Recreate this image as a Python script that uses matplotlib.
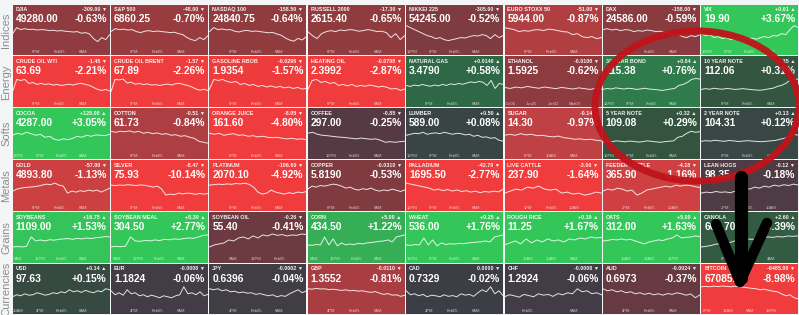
import numpy as np
import matplotlib.pyplot as plt
from matplotlib.colors import LinearSegmentedColormap, Normalize
from matplotlib.patches import Ellipse

plt.rcParams['font.family'] = ['Liberation Sans', 'DejaVu Sans']

groups = ['Indices', 'Energy', 'Softs', 'Metals', 'Grains', 'Currencies']

names = [
    ['DJIA', 'S&P 500', 'NASDAQ 100', 'RUSSELL 2000', 'NIKKEI 225', 'EURO STOXX 50', 'DAX', 'VIX'],
    ['CRUDE OIL WTI', 'CRUDE OIL BRENT', 'GASOLINE RBOB', 'HEATING OIL', 'NATURAL GAS', 'ETHANOL', '30 YEAR BOND', '10 YEAR NOTE'],
    ['COCOA', 'COTTON', 'ORANGE JUICE', 'COFFEE', 'LUMBER', 'SUGAR', '5 YEAR NOTE', '2 YEAR NOTE'],
    ['GOLD', 'SILVER', 'PLATINUM', 'COPPER', 'PALLADIUM', 'LIVE CATTLE', 'FEEDER CATTLE', 'LEAN HOGS'],
    ['SOYBEANS', 'SOYBEAN MEAL', 'SOYBEAN OIL', 'CORN', 'WHEAT', 'ROUGH RICE', 'OATS', 'CANOLA'],
    ['USD', 'EUR', 'JPY', 'GBP', 'CAD', 'CHF', 'AUD', 'BITCOIN'],
]

prices = [
    ['49280.00', '6860.25', '24840.75', '2615.40', '54245.00', '5944.00', '24586.00', '19.90'],
    ['63.69', '67.89', '1.9354', '2.3992', '3.4790', '1.5925', '115.38', '112.06'],
    ['4287.00', '61.73', '161.60', '297.00', '589.00', '14.30', '109.08', '104.31'],
    ['4893.80', '75.93', '2070.10', '5.8190', '1695.50', '237.90', '365.90', '98.35'],
    ['1109.00', '304.50', '55.40', '434.50', '536.00', '11.25', '312.00', '661.70'],
    ['97.63', '1.1824', '0.6396', '1.3552', '0.7329', '1.2924', '0.6973', '67085.00'],
]

changes = [
    ['-309.00', '-48.00', '-158.50', '-17.30', '-305.00', '-51.00', '-158.00', '+0.61'],
    ['-1.45', '-1.57', '-0.0298', '-0.0708', '+0.0140', '-0.0100', '+0.84', '+0.35'],
    ['+128.00', '-0.51', '-8.05', '-0.85', '+0.50', '-0.14', '+0.32', '+0.13'],
    ['-57.00', '-8.47', '-106.60', '-0.0310', '-42.70', '-3.90', '-4.18', '-0.12'],
    ['+16.75', '+8.30', '-0.26', '+5.00', '+9.25', '+0.19', '+5.00', '+2.60'],
    ['+0.14', '-0.0008', '-0.0002', '-0.0110', '0.0000', '-0.0008', '-0.0024', '-6485.00'],
]

pcts = [
    [-0.63, -0.70, -0.64, -0.65, -0.52, -0.87, -0.59, 3.67],
    [-2.21, -2.26, -1.57, -2.87, 0.58, -0.62, 0.76, 0.31],
    [3.05, -0.84, -4.80, -0.25, 0.08, -0.97, 0.29, 0.12],
    [-1.13, -10.14, -4.92, -0.53, -2.77, -1.64, -1.16, -0.18],
    [1.53, 2.77, -0.41, 1.22, 1.76, 1.67, 1.63, 0.39],
    [0.15, -0.06, -0.04, -0.81, -0.02, -0.06, -0.37, -8.98],
]

ticks = [
    ['6PM Feb05 6AM'] * 4 + ['12PM 6PM Feb05 6AM', '6PM Feb05 6AM', '6PM Feb05 6AM', '12PM 6PM Feb05 6AM'],
    ['6PM Feb05 6AM'] * 4 + ['6PM Feb05 6AM', 'Oct06 Jun25 Jun02 Mar09', '12PM 6PM Feb05 6AM', '6PM Feb05 6AM'],
    ['12PM 6PM Feb05 6AM', '6PM Feb05 6AM', '6PM Feb05 6AM', '12PM Feb05 6AM', '12PM 6PM Feb05 6AM',
     '6PM 10AM 6AM', '12PM 6PM Feb05 6AM', '6PM Feb05 6AM'],
    ['6PM Feb05 6AM', '6PM Feb05 6AM', '6PM Feb05 6AM', '6PM Feb05 6AM', '12PM 6PM Feb05 6AM',
     '1PM Feb05 10AM', '2PM Feb05 10AM', '2PM Feb05 10AM'],
    ['6AM 12PM Feb05 6AM', '6AM 12PM Feb05 6AM', '6AM 12PM Feb05', '6AM 12PM Feb05 6AM', '12PM 6PM Feb05 6AM',
     '10AM 10AM 6AM', '10AM 10AM 12PM', '6PM Feb05 4AM'],
    ['10AM 4PM Feb05 6AM', '4PM Feb05 6AM', '4PM Feb05 6AM', '4PM Feb05 6AM', '4PM Feb05 6AM',
     'Feb05 6AM', '4PM Feb05 6AM', '6PM 12AM 6AM 12PM'],
]

spark = [
    [
        [5, 8, 7, 7.5, 7, 7.2, 6.8, 7, 6.9, 6.5, 6.7, 6.3, 6.5, 6.2, 6, 5.8, 6, 5.2, 5.5, 4.8, 2.5, 1, 3, 2, 4.5],
        [6, 7.5, 7, 7.2, 6.8, 7, 6, 5.5, 6.2, 6.5, 6, 6.3, 6, 5.8, 5.5, 5.7, 5, 4.5, 3, 2, 1.5, 3, 2, 4],
        [6, 8, 7, 7.3, 6.9, 7, 6.2, 5.8, 6.4, 6.6, 6.1, 6.3, 6, 5.7, 5.4, 5.6, 4.8, 4.2, 2.8, 1.8, 1.2, 2.6, 1.8, 3.5],
        [6, 4, 2.5, 5, 6, 6.5, 6, 6.8, 6.5, 7, 6.8, 6.2, 6.5, 7, 6.6, 6, 6.2, 5.5, 3, 5, 2, 4],
        [9, 8, 7, 6, 5, 4, 3.5, 2.5, 3, 2, 1.5, 2, 2.5, 3, 2.8, 3.5, 4, 3.8, 4.5, 4, 2.5, 4.5, 3, 4],
        [8, 7.5, 7, 6, 6.5, 6.2, 6.8, 7, 6.5, 7.2, 7, 6.5, 6, 5.8, 4.5, 5, 3.5, 3, 3.5, 2.5, 3],
        [7, 7.5, 6.8, 7.2, 6.5, 7, 6.8, 6, 6.5, 6.2, 6.8, 6.5, 6, 6.2, 5.5, 5, 4.2, 4.8, 3.5, 3, 4, 3.5, 4.5],
        [5, 4, 4.5, 3, 3.5, 2.5, 3, 2, 2.5, 3, 2.5, 2, 2.8, 2.2, 3, 3.5, 3, 4, 3.8, 5, 4.5, 7, 9, 8],
    ],
    [
        [2, 8, 7.5, 8, 6, 6.5, 5.5, 6, 5.5, 5.8, 5.2, 5.5, 5, 5.3, 5.6, 5.2, 5.8, 6, 5.5, 5, 4, 3, 2.5, 3, 2.2],
        [2, 8, 7.8, 8.2, 6.2, 6.6, 5.6, 6, 5.4, 5.8, 5.2, 5.4, 5, 5.4, 5.7, 5.2, 5.9, 6.1, 5.4, 5, 4.2, 3.2, 2.6, 3.1, 2.4],
        [3, 8, 7.5, 8, 7, 6.5, 7, 5.5, 6, 5, 5.5, 4.5, 5, 4.2, 4.8, 4, 4.5, 3.8, 4.2, 3.5, 4, 3.2, 3.5],
        [3, 7.5, 8, 6.5, 7, 6, 6.5, 5, 5.5, 4.8, 5.5, 4.5, 5, 4.6, 5.2, 4.8, 4.2, 4.6, 4, 3.2, 3.5, 2.5, 3.2],
        [5, 4.5, 5.2, 4.8, 5.5, 5, 4.6, 5.2, 4.8, 5.5, 5, 5.8, 5.4, 6, 5.6, 6.2, 6.8, 6.4, 7, 6.6, 5, 7.5, 3.5, 6, 5.5],
        [4, 3.5, 4.2, 3.8, 4.5, 4, 3.6, 4.2, 3.8, 3.4, 4, 3.6, 3.2, 3.8, 3.4, 3, 3.6, 3.2],
        [3, 3.5, 3.2, 3.8, 3.5, 3.2, 3.6, 3.4, 3, 3.3, 3.6, 3.2, 3, 2.8, 2.5, 2.8, 3.2, 3.5, 5, 5.5, 6.5, 8, 8.5, 8.2],
        [3, 3.4, 3.1, 3.6, 3.3, 3.1, 3.5, 3.3, 3, 3.2, 3.4, 3.1, 2.9, 2.7, 2.6, 2.9, 3.3, 3.6, 4.5, 5, 6, 7.5, 8, 8.2],
    ],
    [
        [6, 7, 6.5, 7.5, 6.8, 6, 6.5, 5, 5.5, 4, 3.5, 4.2, 3.8, 4.5, 5.5, 5, 6, 5.5, 6.2, 6, 5.8, 6.5],
        [8, 7.5, 8, 7.8, 8.2, 7.5, 8, 7, 7.5, 6.8, 7.2, 6.5, 6.8, 6, 6.3, 5.5, 5.8, 5, 4.5, 3, 2.5, 2],
        [7, 6.5, 7, 6, 6.5, 6.8, 6, 6.2, 5.5, 5.8, 5.2, 5.5, 5, 4.8, 5, 4.5, 4.2, 4.5, 4, 4.2, 3.8],
        [7, 7.5, 6.5, 6, 5.8, 5.5, 5.2, 5, 4.8, 4.5, 4.2, 4.6, 4.3, 4, 4.2, 3.5, 2.5, 2.8, 2.5, 2.8, 3],
        [6, 6.5, 7, 6.8, 7.5, 6.5, 7, 7.2, 6.8, 7.5, 7, 6.5, 7, 6.8, 6.2, 6.5, 5.5, 6, 5, 5.2, 4.5, 4.8, 3.5, 3],
        [6, 6.5, 6, 6.8, 6.2, 6.5, 5.8, 6, 5.5, 5.2, 5.6, 4.8, 4.5, 4, 4.2, 3.8, 4, 3.5, 3.2],
        [2.5, 3, 2.8, 3.2, 3, 2.7, 3.1, 2.9, 2.6, 2.8, 3.2, 3, 2.7, 2.5, 2.8, 3, 3.2, 5, 5.5, 7, 8, 7.5, 7.8],
        [3, 3.3, 3.1, 3.5, 3.2, 3, 3.4, 3.2, 2.9, 3.1, 3.3, 3.1, 2.9, 2.8, 3, 3.2, 3.4, 4, 4.5, 5.5, 6.5, 6],
    ],
    [
        [4, 5, 5.5, 5.8, 6, 6.2, 6.5, 7, 7.5, 7.2, 8, 7, 6.5, 3, 4, 3.5, 4.2, 3.8, 4.5, 4, 4.5, 3.5, 4.5, 5.5],
        [7, 6.8, 7, 6.9, 7.2, 7, 6.8, 7.1, 6.9, 6.5, 6, 6.5, 5, 2, 2.5, 2.2, 3, 2.6, 3, 2.8, 2.4, 2.8, 2.5, 2.8],
        [7, 7.2, 7.5, 7.3, 7.6, 7.4, 7.8, 7.6, 8, 7.4, 6, 3.5, 2.5, 3, 4.5, 3.5, 3, 2.5, 3.2, 2.8, 3.5, 3.2, 3.8],
        [5, 6.5, 6, 6.8, 6.5, 7, 7.5, 7.2, 6.5, 5.5, 6, 5, 4.5, 5.2, 4.8, 5.5, 4.5, 4, 4.6, 4.2, 5, 4.4, 3.8, 4.6],
        [8, 7.5, 7, 6.5, 6, 5.5, 4.5, 5, 4.2, 4.8, 4, 4.6, 3.8, 4.2, 3.5, 4, 3.2, 3.8, 3.5, 4, 3.6, 5],
        [3, 4, 5, 4.5, 6, 5.5, 6.5, 5, 4.5, 5, 3, 3.5, 2.5, 3, 2, 2.5, 3.5, 3],
        [4, 5, 4.5, 5.5, 5, 4, 4.5, 2, 3, 4.5, 5, 5.5, 6, 6.5, 6, 7, 6.5, 7, 6.8, 6.2, 5.8],
        [3, 3.5, 3.2, 3.8, 3.4, 3.6, 3.2, 4, 3.5, 5.5, 5, 6, 5.5, 6.5, 6, 7, 6.5, 7.2, 6.8, 7.5, 7],
    ],
    [
        [2, 2.2, 2, 2.3, 7, 5, 5.5, 5, 5.6, 5.4, 5.8, 6, 6.2, 5.8, 6.3, 6, 6.5, 6.2, 6.6, 6.8, 7.2, 7],
        [2, 2.3, 2.1, 2.4, 7, 5, 4.8, 5.3, 5, 5.5, 5.2, 5.8, 5.6, 6, 5.8, 6.2, 6.5, 6.3, 7, 7.8, 8],
        [2, 3, 3.5, 4, 5.5, 5, 6.5, 7, 6, 7.5, 6.5, 8, 7.5, 8.5, 7.8, 8.2, 7.5, 8, 7.8, 8.5, 8.2],
        [3, 2.8, 3.2, 3, 7, 3, 6, 2.5, 4, 3, 3.5, 3.2, 3.8, 3.5, 4, 4.2, 4.5, 4.8, 5, 5.5, 4.5, 7, 7.5, 8],
        [3, 2.8, 3.2, 3, 6.5, 3, 5.5, 2.5, 4, 3.2, 3.6, 3.4, 3.8, 3.6, 4, 4.2, 4.4, 4.6, 5, 4.5, 7, 7.5, 8],
        [3, 4, 5, 3.5, 6, 4, 5.5, 4.5, 6, 5, 5.5, 4.5, 6, 5.5, 6.5, 6, 7, 6.5, 6.8],
        [5, 5.2, 5.8, 5.5, 6, 5.5, 5.8, 5, 4.2, 3.5, 4.5, 5, 5.5, 5.2, 6, 6.5, 8, 6.5, 6.8, 7, 7.5, 7.2],
        [2, 2.3, 2.8, 3.5, 3.2, 4, 4.5, 5.5, 5, 6, 5.8, 6.2, 6.5, 7, 6.8, 7.2, 7, 7.5, 7.3, 7.6],
    ],
    [
        [3, 4, 3.5, 4.5, 3.8, 4, 5, 4.5, 3.8, 4.2, 5, 4.6, 5.5, 5, 6.5, 5.5, 6, 5.2, 6.2, 5.5, 5, 6, 5.5, 7, 6.5],
        [6, 4, 5, 3.8, 6.5, 4.5, 5, 3.5, 4, 3, 3.8, 3.2, 2.5, 3.5, 3, 2.5, 3.5, 4, 8, 4.5, 5, 4, 5.5, 3.5, 4.2],
        [7, 6.5, 7, 6, 6.5, 5.5, 5.8, 5, 5.4, 4.8, 5, 4.2, 4.6, 4, 3.5, 4, 3, 3.6, 3.2, 4.5, 5.5, 6.5, 5, 6],
        [7, 6.8, 7.2, 6.9, 7, 6.6, 6.8, 6.5, 6.2, 6.5, 6, 6.2, 5.8, 6, 5.5, 5.2, 5.6, 4.8, 4.2, 4.6, 3.8, 4, 3.2, 3.8],
        [6, 4, 4.5, 3.5, 4.2, 3, 3.8, 3.5, 3, 4, 3.2, 3.6, 3, 4.5, 3.8, 4.2, 3.2, 5, 6.5, 5.5, 8, 4.5, 6, 3.5],
        [3, 4, 3.5, 2.8, 4.2, 3.6, 3, 4.5, 3.8, 4.2, 3.2, 4.6, 4, 5, 4.5, 7, 5.5, 6, 4.5, 5, 4],
        [7, 6, 6.5, 5.5, 6, 5, 5.5, 4.5, 5, 4.2, 4.8, 4, 4.5, 3.8, 4.6, 4.2, 5, 4.5, 3.8, 4.4, 2.5, 4],
        [8, 8.2, 8, 8.3, 8.1, 8.4, 8.2, 8, 8.3, 8.1, 7.8, 7.5, 7.2, 7, 6.5, 6.8, 6.2, 5.8, 5.5, 4.5, 3.5, 4, 2.5, 2],
    ],
]

# tile colour from % change: red .. grey .. green
cmap = LinearSegmentedColormap.from_list('heat', [
    (0.0, '#f03c3c'), (0.19, '#c24144'), (0.31, '#8b3b3f'), (0.41, '#5a3a42'),
    (0.5, '#3b3d46'), (0.59, '#34543f'), (0.69, '#2f6a48'), (0.78, '#2f8a50'),
    (0.91, '#36b858'), (1.0, '#33c759')])
norm = Normalize(-1.6, 1.6, clip=True)

W, H = 799, 315
x0, y0 = 12, 4
cw = (W - x0) / 8
rh = (H - y0) / 6
gap = 1.3

fig = plt.figure(figsize=(W / 100, H / 100), dpi=100, facecolor='#f4f5f7')

for r in range(6):
    fig.text(6.5 / W, 1 - (y0 + (r + 0.5) * rh) / H, groups[r], rotation=90,
             ha='center', va='center', color='#8d8d8d', fontsize=8)
    for c in range(8):
        left = (x0 + c * cw + gap / 2) / W
        bottom = 1 - (y0 + (r + 1) * rh - gap / 2) / H
        ax = fig.add_axes([left, bottom, (cw - gap) / W, (rh - gap) / H])
        p = pcts[r][c]
        ax.set_facecolor(cmap(norm(p)))
        ys = spark[r][c]
        ax.plot(range(len(ys)), ys, color='white', lw=0.7, alpha=0.85)
        ax.set_xlim(0, len(ys) - 1)
        ax.set_ylim(-5.8, 19.5)
        ax.set_xticks([])
        ax.set_yticks([])
        for s in ax.spines.values():
            s.set_visible(False)
        arrow = '\u25bc' if p < 0 else '\u25b2'
        ax.text(0.03, 0.87, names[r][c], transform=ax.transAxes, color='white',
                fontsize=3.9, fontweight='bold', alpha=0.92)
        ax.text(0.97, 0.87, changes[r][c] + ' ' + arrow, transform=ax.transAxes,
                color='white', fontsize=3.9, fontweight='bold', ha='right', alpha=0.92)
        ax.text(0.03, 0.65, prices[r][c], transform=ax.transAxes, color='white',
                fontsize=7.4, fontweight='bold')
        ax.text(0.97, 0.65, f'{p:+.2f}%', transform=ax.transAxes, color='white',
                fontsize=7.4, fontweight='bold', ha='right')
        toks = ticks[r][c].split()
        xs = np.linspace(0.06, 0.72, len(toks)) if len(toks) > 3 else np.linspace(0.24, 0.72, len(toks))
        for xt, t in zip(xs, toks):
            ax.text(xt, 0.04, t, transform=ax.transAxes, color='white', alpha=0.7,
                    fontsize=3.0, ha='center')

# hand-drawn annotation on top
ov = fig.add_axes([0, 0, 1, 1])
ov.set_xlim(0, W)
ov.set_ylim(H, 0)
ov.axis('off')
ov.patch.set_alpha(0)
ov.add_patch(Ellipse((697, 106), 204, 150, fill=False, ec='#bf141b', lw=5, alpha=0.95))
ov.plot([741, 741], [177, 278], color='black', lw=9.5, solid_capstyle='round')
ov.plot([716, 740, 767], [224, 282, 223], color='black', lw=7.5, solid_capstyle='round')

fig.savefig('out.png', dpi=100, facecolor=fig.get_facecolor())
